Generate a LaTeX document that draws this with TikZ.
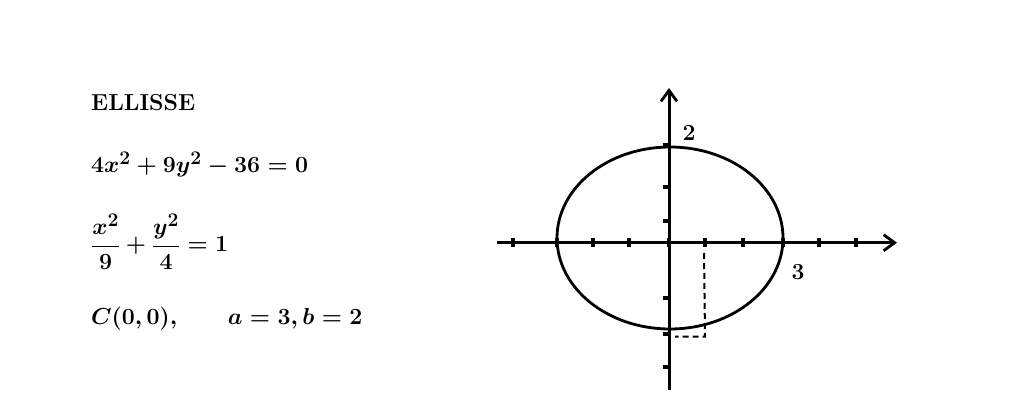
\documentclass[tikz,border=0pt]{standalone}
\usepackage{amsmath}
\usetikzlibrary{arrows.meta}
\begin{document}
\begin{tikzpicture}[x=1pt,y=-1pt,
    axis/.style={black, line width=3pt, -{Straight Barb[length=11pt,width=16pt,line width=2.8pt]}},
    tick/.style={black, line width=3.4pt},
    txt/.style={anchor=base west, inner sep=0pt, scale=0.93, font=\fontsize{24.88}{30}\selectfont\bfseries\boldmath}]
    \useasboundingbox (0,0) rectangle (1024,419);
    % text on the left
    \node[txt] (title) at (91,111) {ELLISSE};
    \node[txt] (eqn) at (91,173) {$4x^2+9y^2-36=0$};
    \node[txt] (frac) at (91,252) {$\dfrac{x^2}{9}+\dfrac{y^2}{4}=1$};
    \node[txt] (data) at (91,324) {$C(0,0),\qquad a=3,b=2$};
    % axes
    \draw[axis] (497,242.7) to (897,242.7);
    \draw[axis] (669,390) to (669,88);
    % ellipse
    \draw[black, line width=2.8pt] (670,238) ellipse [x radius=113, y radius=91];
    % ticks on the x axis
    \foreach \px in {513, 557, 593, 629, 669, 705, 743, 783, 819, 856}
        \draw[tick] (\px,238) to (\px,247.5);
    % ticks on the y axis
    \foreach \py in {145, 187, 221, 298, 334, 367}
        \draw[tick] (662.5,\py) to (671,\py);
    % dashed lines
    \draw[black, line width=2pt, dash pattern=on 6pt off 4pt] (704,253) to (705,336.5) to (675,336.5);
    % labels
    \node[font=\fontsize{23}{27}\selectfont\bfseries] (ltwo) at (689,133) {2};
    \node[font=\fontsize{23}{27}\selectfont\bfseries] (lthree) at (798,272) {3};
\end{tikzpicture}
\end{document}
